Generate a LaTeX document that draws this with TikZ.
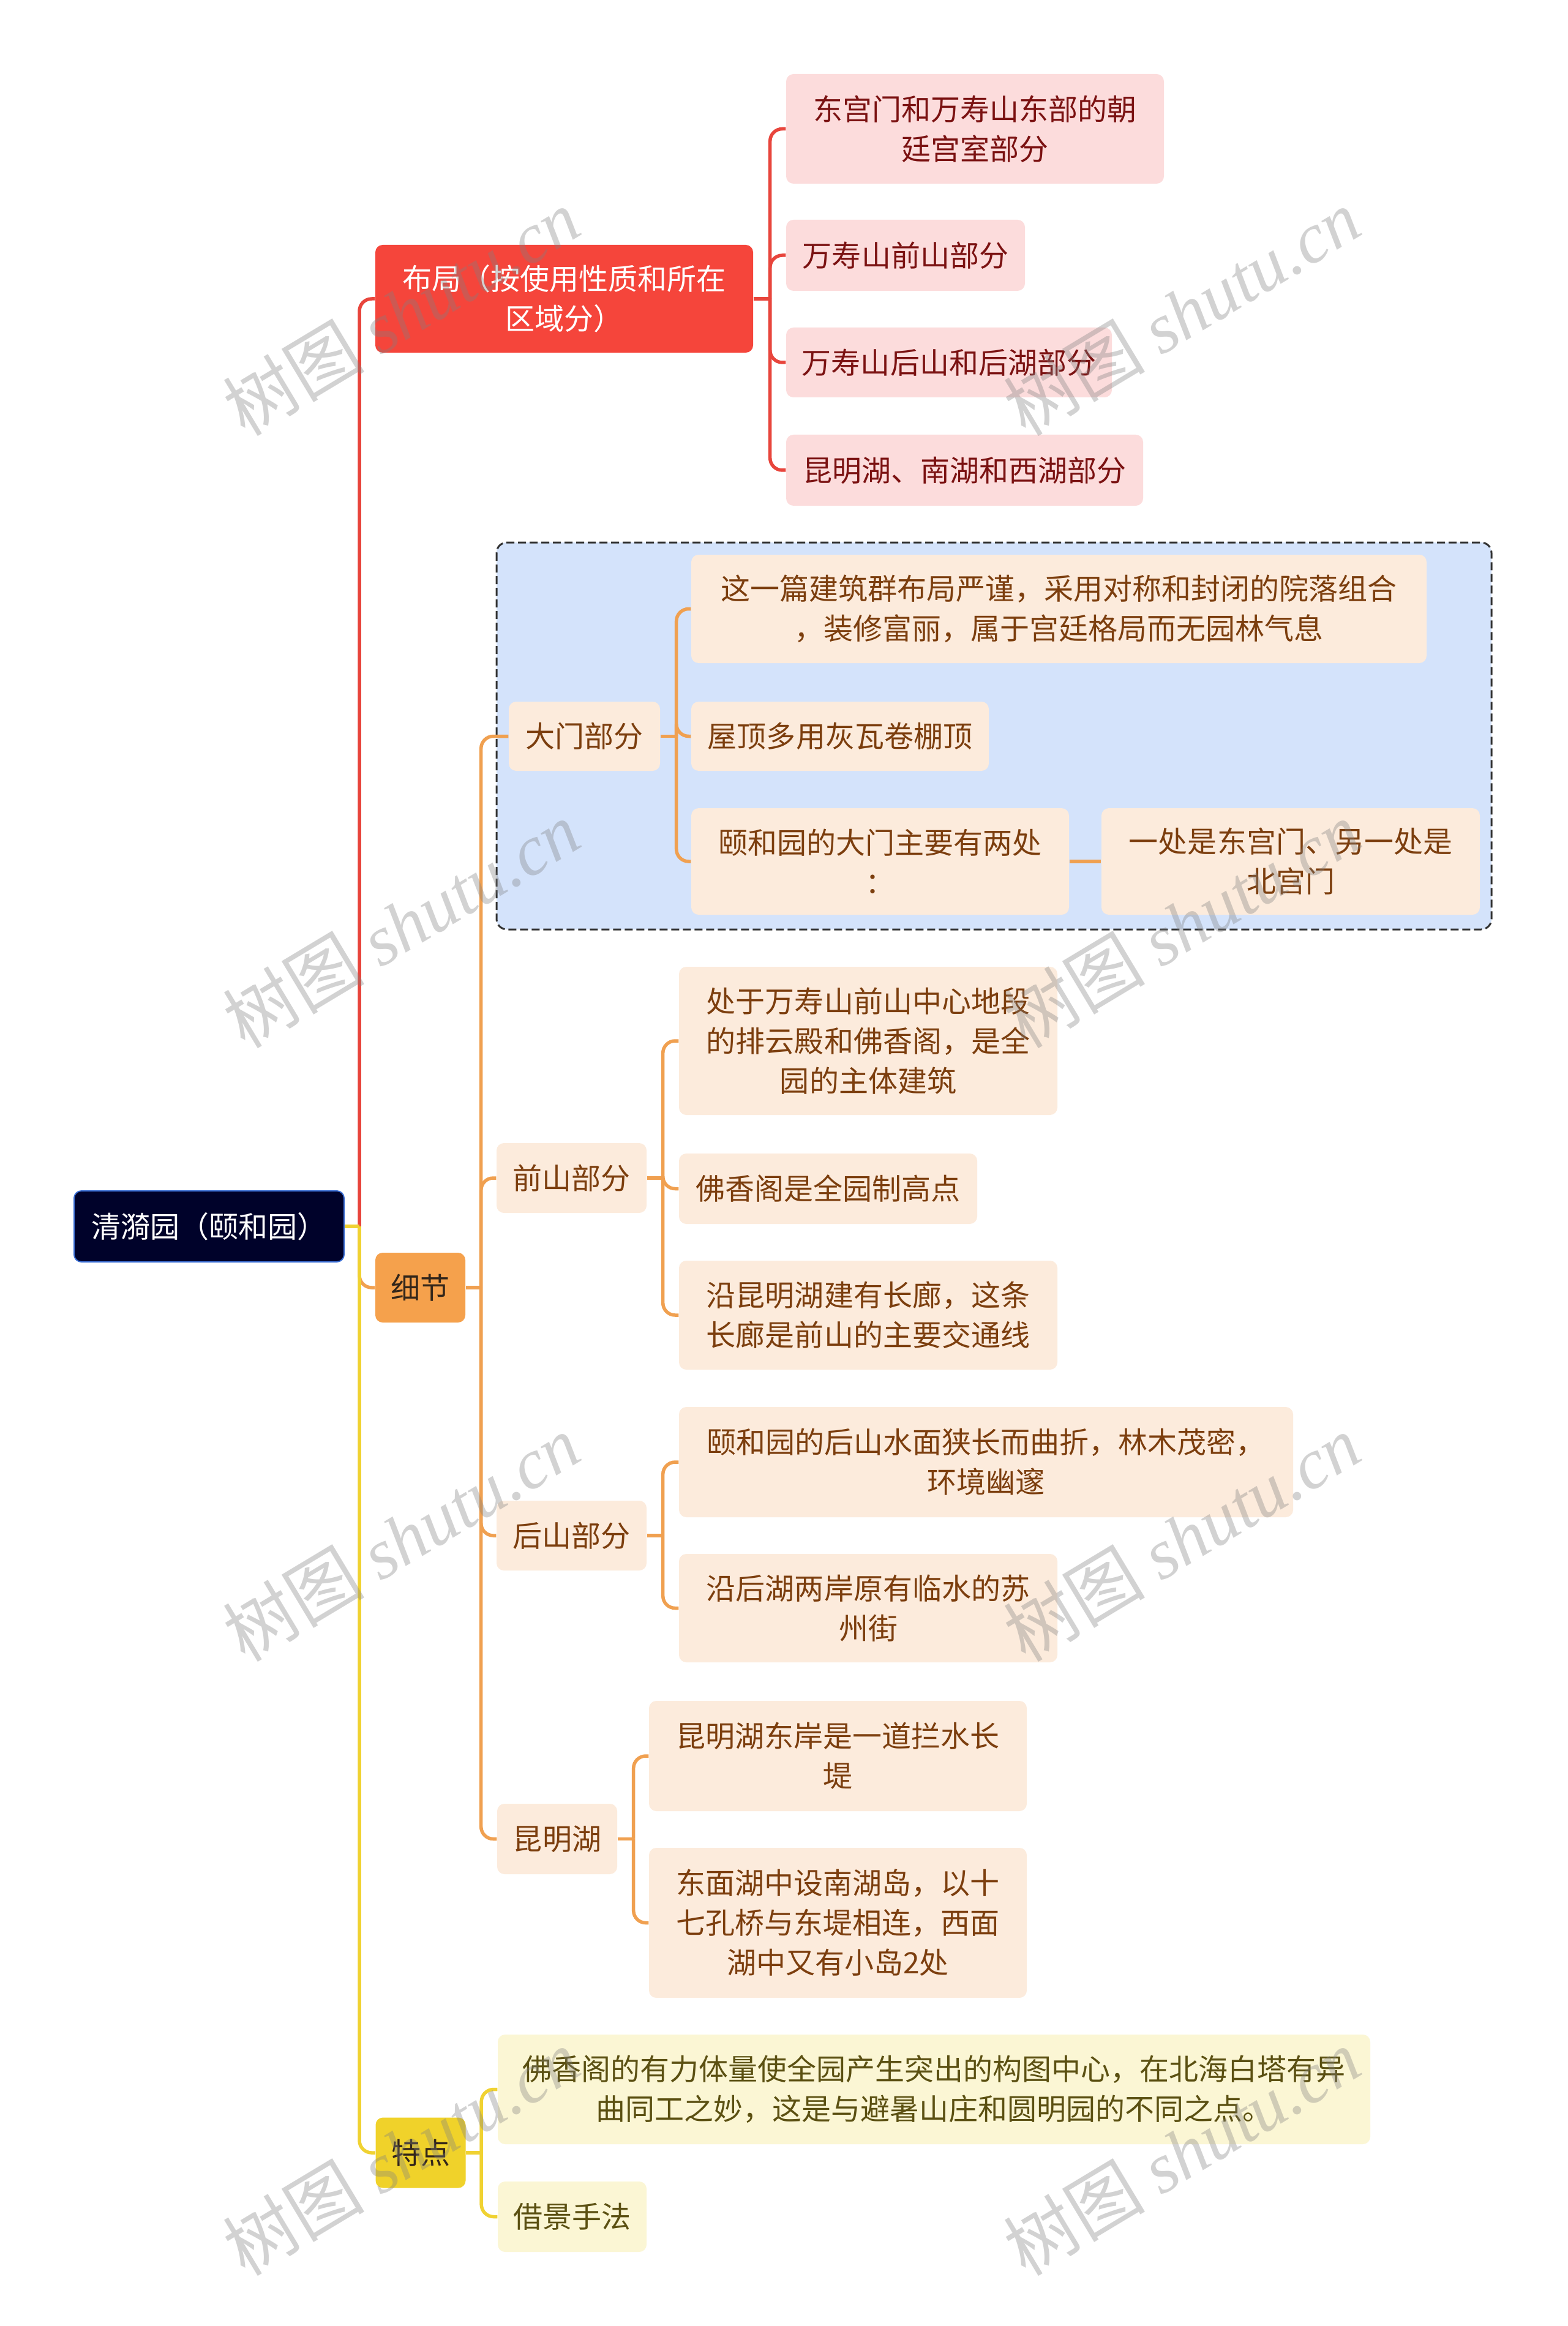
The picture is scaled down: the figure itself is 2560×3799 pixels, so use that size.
\documentclass[tikz,border=0pt]{standalone}
\usepackage{fontspec}
\setmainfont{Noto Sans CJK SC}
\newfontfamily\wmserif{Liberation Serif}
\definecolor{rootfill}{HTML}{00022A}
\definecolor{rootdraw}{HTML}{3B6FD6}
\definecolor{redmain}{HTML}{F5453B}
\definecolor{redline}{HTML}{E8453C}
\definecolor{redsub}{HTML}{FCDCDC}
\definecolor{redtext}{HTML}{7B1212}
\definecolor{orgmain}{HTML}{F5A14C}
\definecolor{orgline}{HTML}{F0A050}
\definecolor{orgsub}{HTML}{FCEBDC}
\definecolor{orgtext}{HTML}{7C3E0E}
\definecolor{ylwmain}{HTML}{F0D22A}
\definecolor{ylwline}{HTML}{F0D232}
\definecolor{ylwsub}{HTML}{FBF6D4}
\definecolor{ylwtext}{HTML}{5B5012}
\definecolor{darktext}{HTML}{33261A}
\definecolor{bluezone}{HTML}{D4E3FB}
\definecolor{zoneline}{HTML}{333333}
\newcommand\fs{\fontsize{13.66pt}{18.5pt}\selectfont}
\newcommand\wmfs{\fontsize{33pt}{33pt}\selectfont}
\tikzset{
 nbase/.style={rounded corners=1.2mm, inner sep=0pt, align=center, font=\fs},
 rootbox/.style={nbase, fill=rootfill, draw=rootdraw, line width=0.2mm, text=white},
 redbig/.style={nbase, fill=redmain, text=white},
 redbox/.style={nbase, fill=redsub, text=redtext},
 orgbig/.style={nbase, fill=orgmain, text=darktext},
 orgbox/.style={nbase, fill=orgsub, text=orgtext},
 ylwbig/.style={nbase, fill=ylwmain, text=darktext},
 ylwbox/.style={nbase, fill=ylwsub, text=ylwtext},
 sz/.style 2 args={minimum width=#1mm, minimum height=#2mm},
 conn/.style={line width=0.55mm, rounded corners=2mm},
 lred/.style={conn, draw=redline},
 lorg/.style={conn, draw=orgline},
 lylw/.style={conn, draw=ylwline},
 zone/.style={fill=bluezone, draw=zoneline, line width=0.3mm, rounded corners=1.7mm, dash pattern=on 1.3mm off 0.6mm},
 wm/.style={text=black!50, text opacity=0.35, rotate=31, font=\wmfs, inner sep=0pt}
}
\begin{document}
\begin{tikzpicture}[x=0.1mm, y=-0.1mm]
\fill[white] (0,0) rectangle (2560,3799);
\useasboundingbox (0,0) rectangle (2560,3799);

% dashed zone
\draw[zone] (811,886) rectangle (2436,1518);

% nodes
\node[rootbox, sz={44.1}{11.6}] (root) at (341.5,2003) {清漪园（颐和园）};

\node[redbig, sz={61.7}{17.6}] (bj) at (921.5,488) {布局（按使用性质和所在\\区域分）};
\node[redbox, sz={61.7}{17.9}] (a1) at (1592.5,210.5) {东宫门和万寿山东部的朝\\廷宫室部分};
\node[redbox, sz={39.0}{11.6}] (a2) at (1479,417) {万寿山前山部分};
\node[redbox, sz={53.2}{11.4}] (a3) at (1550,592) {万寿山后山和后湖部分};
\node[redbox, sz={58.3}{11.6}] (a4) at (1575.5,768) {昆明湖、南湖和西湖部分};

\node[orgbig, sz={14.7}{11.4}] (xj) at (686.5,2103) {细节};

\node[orgbox, sz={24.7}{11.3}] (b) at (954.5,1202.5) {大门部分};
\node[orgbox, sz={120.1}{17.7}] (b1) at (1729.5,994.5) {这一篇建筑群布局严谨，采用对称和封闭的院落组合\\，装修富丽，属于宫廷格局而无园林气息};
\node[orgbox, sz={48.6}{11.3}] (b2) at (1372,1202.5) {屋顶多用灰瓦卷棚顶};
\node[orgbox, sz={61.7}{17.4}] (b3) at (1437.5,1407) {颐和园的大门主要有两处\\：};
\node[orgbox, sz={61.8}{17.4}] (b4) at (2108,1407) {一处是东宫门、另一处是\\北宫门};

\node[orgbox, sz={24.5}{11.4}] (c) at (933.5,1924) {前山部分};
\node[orgbox, sz={61.8}{24.2}] (c1) at (1418,1700) {处于万寿山前山中心地段\\的排云殿和佛香阁，是全\\园的主体建筑};
\node[orgbox, sz={48.7}{11.5}] (c2) at (1352.5,1941.5) {佛香阁是全园制高点};
\node[orgbox, sz={61.8}{17.8}] (c3) at (1418,2148) {沿昆明湖建有长廊，这条\\长廊是前山的主要交通线};

\node[orgbox, sz={24.5}{11.4}] (d) at (933.5,2508) {后山部分};
\node[orgbox, sz={100.3}{18.0}] (d1) at (1610.5,2388) {颐和园的后山水面狭长而曲折，林木茂密，\\环境幽邃};
\node[orgbox, sz={61.8}{17.7}] (d2) at (1418,2626.5) {沿后湖两岸原有临水的苏\\州街};

\node[orgbox, sz={19.6}{11.5}] (e) at (910,3003.5) {昆明湖};
\node[orgbox, sz={61.7}{18.0}] (e1) at (1368.5,2868) {昆明湖东岸是一道拦水长\\堤};
\node[orgbox, sz={61.7}{24.5}] (e2) at (1368.5,3140.5) {东面湖中设南湖岛，以十\\七孔桥与东堤相连，西面\\湖中又有小岛2处};

\node[ylwbig, sz={14.7}{11.5}] (td) at (687,3516) {特点};
\node[ylwbox, sz={142.5}{17.9}] (f1) at (1525.5,3412.5) {佛香阁的有力体量使全园产生突出的构图中心，在北海白塔有异\\曲同工之妙，这是与避暑山庄和圆明园的不同之点。};
\node[ylwbox, sz={24.3}{11.5}] (f2) at (934.5,3620.5) {借景手法};

% connectors: red group
\draw[lred] ([xshift=2.4mm]root.east) |- (bj.west);
\draw[lred] (bj.east) -- ([xshift=2.7mm]bj.east);
\foreach \n in {a1,a2,a3,a4}
  \draw[lred] ([xshift=2.7mm]bj.east) |- (\n.west);

% orange group
\draw[lorg] ([xshift=2.4mm]root.east) |- (xj.west);
\draw[lorg] (xj.east) -- ([xshift=2.5mm]xj.east);
\foreach \n in {b,c,d,e}
  \draw[lorg] ([xshift=2.5mm]xj.east) |- (\n.west);
\draw[lorg] (b.east) -- ([xshift=2.6mm]b.east);
\foreach \n in {b1,b2,b3}
  \draw[lorg] ([xshift=2.6mm]b.east) |- (\n.west);
\draw[lorg] (b3.east) -- (b4.west);
\draw[lorg] (c.east) -- ([xshift=2.6mm]c.east);
\foreach \n in {c1,c2,c3}
  \draw[lorg] ([xshift=2.6mm]c.east) |- (\n.west);
\draw[lorg] (d.east) -- ([xshift=2.6mm]d.east);
\foreach \n in {d1,d2}
  \draw[lorg] ([xshift=2.6mm]d.east) |- (\n.west);
\draw[lorg] (e.east) -- ([xshift=2.6mm]e.east);
\foreach \n in {e1,e2}
  \draw[lorg] ([xshift=2.6mm]e.east) |- (\n.west);

% yellow group
\draw[lylw] ([xshift=2.4mm]root.east) |- (td.west);
\draw[lylw] (root.east) -- ([xshift=2.4mm]root.east);
\draw[lylw] (td.east) -- ([xshift=2.5mm]td.east);
\foreach \n in {f1,f2}
  \draw[lylw] ([xshift=2.5mm]td.east) |- (\n.west);

% watermarks
\foreach \wy in {510,1510,2512,3515}{
  \node[wm] (wl\wy) at (655,\wy) {树图 {\wmserif\itshape shutu.cn}};
  \node[wm] (wr\wy) at (1930,\wy) {树图 {\wmserif\itshape shutu.cn}};
}
\end{tikzpicture}
\end{document}
